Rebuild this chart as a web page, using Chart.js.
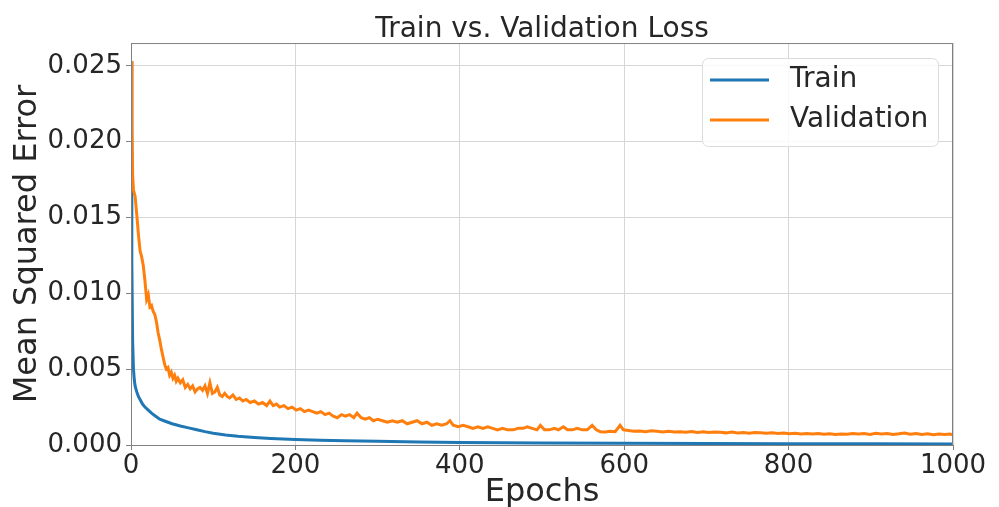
<!DOCTYPE html>
<html>
<head>
<meta charset="utf-8">
<script src="https://cdn.jsdelivr.net/npm/chart.js@4/dist/chart.umd.min.js"></script>
<style>
  body { margin: 0; background: #fff; }
  #wrap { width: 999px; height: 507px; }
</style>
</head>
<body>
<div id="wrap"><canvas id="chart" width="999" height="507"></canvas></div>
<script>
// values
const trainEpochs = [0, 1, 2, 3, 4, 5, 7, 9, 11, 14, 17, 21, 25, 30, 35, 40, 45, 50, 60, 70, 80, 90, 100,
  115, 130, 150, 170, 200, 230, 260, 300, 350, 400, 450, 500, 600, 700, 800, 900, 1000];
const trainLoss = [0.0253, 0.0120, 0.0068, 0.0050, 0.0043, 0.0039, 0.0035, 0.0032, 0.0030, 0.0027, 0.0025,
  0.0023, 0.0021, 0.0019, 0.0017, 0.0016, 0.0015, 0.0014, 0.00125, 0.00113, 0.0010, 0.00088, 0.00078,
  0.00066, 0.00057, 0.00049, 0.00043, 0.00037, 0.00032, 0.00028, 0.00024, 0.0002, 0.00017, 0.00015,
  0.00013, 0.00011, 0.0001, 0.00009, 0.00008, 0.00007];

const valEpochs = [0, 1, 2, 3, 5, 7, 9, 11, 13, 15, 17, 19, 21, 23, 25, 27, 29, 31, 33, 35, 37, 39, 41, 43,
  45, 47, 49, 51, 53, 55, 57, 60, 63, 66, 69, 72, 75, 78, 81, 84, 87, 90, 93, 96, 99, 102, 105, 108, 111,
  114, 117, 120, 124, 128, 132, 136, 140, 145, 150, 155, 160, 165, 169, 173, 177, 181, 186, 191, 196, 201,
  206, 211, 216, 221, 226, 231, 236, 241, 246, 251, 256, 261, 266, 271, 275, 280, 285, 290, 295, 300, 306,
  312, 318, 324, 330, 336, 342, 348, 354, 360, 366, 372, 378, 384, 388, 392, 398, 404, 410, 416, 422, 428,
  434, 440, 446, 452, 458, 465, 471, 477, 482, 488, 494, 498, 503, 509, 515, 520, 526, 531, 537, 543, 549,
  555, 561, 566, 571, 577, 583, 589, 595, 599, 605, 612, 619, 626, 633, 640, 647, 654, 661, 668, 675, 682,
  689, 696, 703, 710, 717, 724, 731, 738, 745, 752, 759, 766, 773, 780, 787, 794, 801, 808, 815, 822, 829,
  836, 843, 850, 857, 864, 871, 878, 885, 892, 899, 906, 913, 920, 927, 934, 941, 948, 955, 962, 969, 976,
  983, 990, 996, 1000];
const valLoss = [0.0253, 0.0212, 0.0178, 0.0168, 0.0164, 0.0152, 0.0139, 0.0128, 0.0124, 0.0118, 0.0108,
  0.0096, 0.0099, 0.0091, 0.0092, 0.0088, 0.0086, 0.0081, 0.0074, 0.0069, 0.0063, 0.0058, 0.0053, 0.0050,
  0.0051, 0.0046, 0.0048, 0.0044, 0.0046, 0.0042, 0.0044, 0.0041, 0.0043, 0.0038, 0.0040, 0.0037, 0.0039,
  0.0035, 0.0037, 0.0038, 0.0036, 0.0039, 0.0034, 0.0041, 0.0034, 0.0035, 0.0038, 0.0033, 0.0032, 0.0034,
  0.0032, 0.0031, 0.0033, 0.0030, 0.0031, 0.0029, 0.0030, 0.0028, 0.0029, 0.0027, 0.0028, 0.0026, 0.0029,
  0.0026, 0.0027, 0.0025, 0.0026, 0.0024, 0.0025, 0.0023, 0.0024, 0.0022, 0.0023, 0.0022, 0.0021, 0.0022,
  0.0020, 0.0021, 0.0019, 0.0018, 0.0020, 0.0019, 0.0020, 0.0018, 0.0021, 0.0018, 0.0017, 0.0018, 0.0016,
  0.0017, 0.0016, 0.0015, 0.0016, 0.0015, 0.0016, 0.0014, 0.0015, 0.0016, 0.0014, 0.0015, 0.0013, 0.0014,
  0.0013, 0.0014, 0.0016, 0.0013, 0.0012, 0.0013, 0.0012, 0.0011, 0.0012, 0.0011, 0.0012, 0.0011, 0.0010,
  0.0011, 0.0010, 0.0010, 0.0011, 0.0011, 0.0012, 0.0011, 0.0010, 0.0013, 0.0010, 0.0010, 0.0011, 0.0010,
  0.0012, 0.0010, 0.0010, 0.0011, 0.0010, 0.0010, 0.0013, 0.0010, 0.00088, 0.00086, 0.0009, 0.00088, 0.0013,
  0.0010, 0.00095, 0.0009, 0.00092, 0.00088, 0.00094, 0.0009, 0.00086, 0.0009, 0.00085, 0.00088, 0.00084,
  0.00089, 0.00083, 0.00087, 0.00082, 0.00086, 0.00084, 0.0008, 0.00085, 0.00079, 0.00082, 0.00078, 0.00083,
  0.0008, 0.00077, 0.00081, 0.00076, 0.00079, 0.00074, 0.00077, 0.00073, 0.00076, 0.00072, 0.00075, 0.00071,
  0.00074, 0.0007, 0.00073, 0.00071, 0.00076, 0.00072, 0.00075, 0.0007, 0.00078, 0.00072, 0.00076, 0.0007,
  0.00074, 0.00079, 0.00071, 0.00075, 0.0007, 0.00074, 0.00068, 0.00073, 0.0007, 0.00072, 0.00068];

const xTicks = [0, 200, 400, 600, 800, 1000];
const yTicks = [0, 0.005, 0.01, 0.015, 0.02, 0.025];

const FONT = "'DejaVu Sans', sans-serif";
const BLUE = '#1f77b4';
const ORANGE = '#ff7f0e';

function toPoints(xs, ys) {
  return xs.map((x, i) => ({ x: x, y: ys[i] }));
}

// frame around the plot + matplotlib-like legend in the upper right
const framePlugin = {
  id: 'frame',
  afterDraw(chart) {
    const { ctx, chartArea: a } = chart;
    ctx.save();
    ctx.strokeStyle = '#808080';
    ctx.lineWidth = 1;
    ctx.strokeRect(a.left + 0.5, a.top + 0.5, a.right - a.left - 1, a.bottom - a.top);

    // legend
    const bx = 702, by = 58, bw = 236, bh = 88, r = 6;
    ctx.fillStyle = 'rgba(255,255,255,0.85)';
    ctx.strokeStyle = '#dcdcdc';
    ctx.beginPath();
    ctx.roundRect(bx + 0.5, by + 0.5, bw, bh, r);
    ctx.fill();
    ctx.stroke();
    ctx.font = '28px ' + FONT;
    ctx.textBaseline = 'middle';
    ctx.fillStyle = '#262626';
    chart.data.datasets.forEach((ds, i) => {
      const y = by + 22 + i * 40;
      ctx.strokeStyle = ds.borderColor;
      ctx.lineWidth = 3;
      ctx.beginPath();
      ctx.moveTo(710, y);
      ctx.lineTo(769, y);
      ctx.stroke();
      ctx.fillText(ds.label, 790, y);
    });
    ctx.restore();
  },
};

const ctx = document.getElementById('chart');
new Chart(ctx, {
  type: 'line',
  data: {
    datasets: [
      {
        label: 'Train',
        data: toPoints(trainEpochs, trainLoss),
        borderColor: BLUE,
        borderWidth: 3,
        pointRadius: 0,
        tension: 0,
        order: 1,
      },
      {
        label: 'Validation',
        data: toPoints(valEpochs, valLoss),
        borderColor: ORANGE,
        borderWidth: 3,
        pointRadius: 0,
        tension: 0,
        order: 0,
      },
    ],
  },
  options: {
    responsive: false,
    animation: false,
    layout: { padding: { top: 0, right: 46, bottom: 0, left: 0 } },
    plugins: {
      legend: { display: false },
      tooltip: { enabled: false },
      title: {
        display: true,
        fullSize: false,
        text: 'Train vs. Validation Loss',
        color: '#262626',
        font: { family: FONT, size: 28, weight: 'normal', lineHeight: 0.93 },
        padding: { top: 17, bottom: 0 },
      },
    },
    scales: {
      x: {
        type: 'linear',
        min: 0,
        max: 1000,
        afterFit: (s) => { s.height = 62; },
        afterBuildTicks: (s) => { s.ticks = xTicks.map((v) => ({ value: v })); },
        grid: { color: '#d6d6d6', tickLength: 5, tickColor: '#808080' },
        border: { color: '#808080' },
        ticks: {
          color: '#262626',
          padding: 1,
          maxRotation: 0,
          font: { family: FONT, size: 26 },
          callback: (v) => String(v),
        },
        title: {
          display: true,
          text: 'Epochs',
          color: '#262626',
          font: { family: FONT, size: 32, lineHeight: 0.9 },
          padding: { top: 0, bottom: 0 },
        },
      },
      y: {
        type: 'linear',
        min: 0,
        max: 0.0265,
        afterFit: (s) => { s.width = 131; },
        afterBuildTicks: (s) => { s.ticks = yTicks.map((v) => ({ value: v })); },
        grid: { color: '#d6d6d6', tickLength: 5, tickColor: '#808080' },
        border: { color: '#808080' },
        ticks: {
          color: '#262626',
          padding: 4,
          font: { family: FONT, size: 26 },
          callback: (v) => v.toFixed(3),
        },
        title: {
          display: true,
          text: 'Mean Squared Error',
          color: '#262626',
          font: { family: FONT, size: 32 },
          padding: { top: 8, bottom: 0 },
        },
      },
    },
  },
  plugins: [framePlugin],
});
</script>
</body>
</html>
